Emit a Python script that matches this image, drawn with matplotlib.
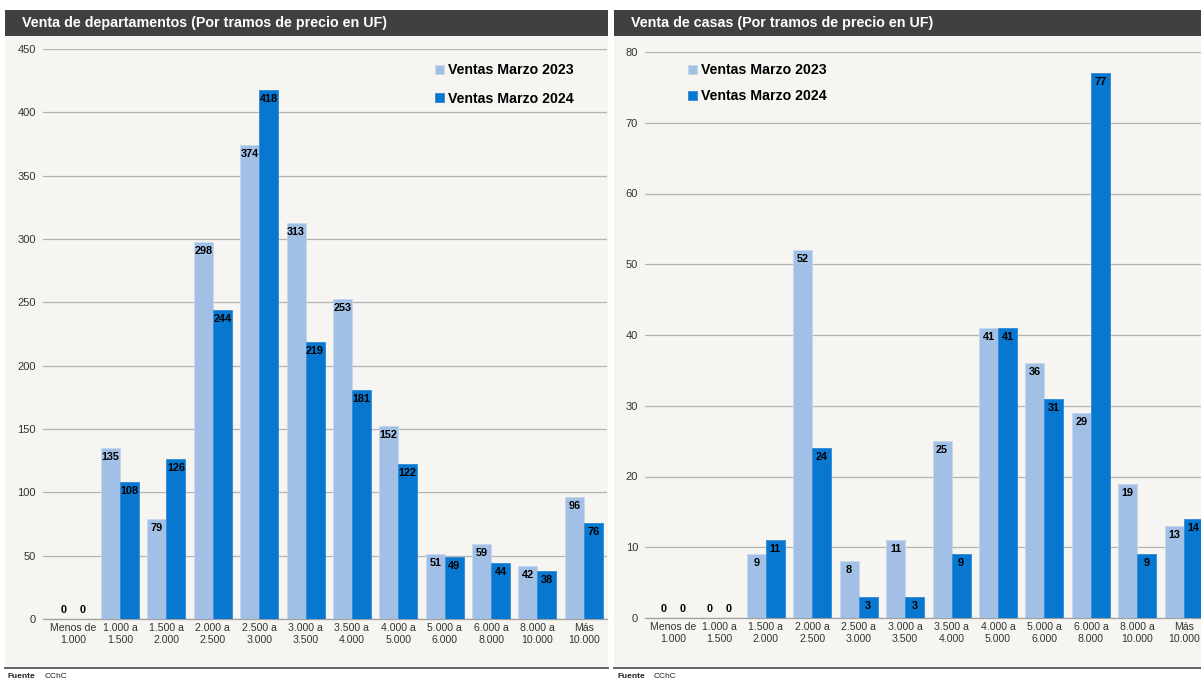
import numpy as np
import matplotlib
matplotlib.use('Agg')
import matplotlib.pyplot as plt
from matplotlib.patches import Rectangle

plt.rcParams['font.family'] = ['Liberation Sans', 'DejaVu Sans']

# price ranges (UF)
tramos = ['Menos de\n1.000', '1.000 a\n1.500', '1.500 a\n2.000', '2.000 a\n2.500',
          '2.500 a\n3.000', '3.000 a\n3.500', '3.500 a\n4.000', '4.000 a\n5.000',
          '5.000 a\n6.000', '6.000 a\n8.000', '8.000 a\n10.000', 'Más\n10.000']

deptos_2023 = [0, 135, 79, 298, 374, 313, 253, 152, 51, 59, 42, 96]
deptos_2024 = [0, 108, 126, 244, 418, 219, 181, 122, 49, 44, 38, 76]

casas_2023 = [0, 0, 9, 52, 8, 11, 25, 41, 36, 29, 19, 13]
casas_2024 = [0, 0, 11, 24, 3, 3, 9, 41, 31, 77, 9, 14]

series_names = ['Ventas Marzo 2023', 'Ventas Marzo 2024']

C_LIGHT = '#a2c0e5'
C_DARK = '#0877d0'
C_HEAD = '#404040'
C_PANEL = '#f6f5f1'

W, H = 1201, 681
fig = plt.figure(figsize=(W / 100, H / 100), dpi=100)
fig.patch.set_facecolor('white')


def fx(x):
    return x / W


def fy(y):
    return 1 - y / H


def panel(x0, x1, title):
    fig.add_artist(Rectangle((fx(x0), fy(668)), fx(x1) - fx(x0), fy(36) - fy(668),
                             transform=fig.transFigure, facecolor=C_PANEL,
                             edgecolor='none', zorder=-5))
    fig.add_artist(Rectangle((fx(x0), fy(36)), fx(x1) - fx(x0), fy(10) - fy(36),
                             transform=fig.transFigure, facecolor=C_HEAD,
                             edgecolor='none', zorder=-4))
    fig.text(fx(x0 + 17), fy(23), title, color='white', fontsize=10.3,
             fontweight='bold', va='center', ha='left')
    fig.add_artist(plt.Line2D([fx(x0), fx(x1)], [fy(668), fy(668)],
                              transform=fig.transFigure, color='#555555', lw=1.3))
    fig.text(fx(x0 + 3), fy(677), 'Fuente', fontsize=6, fontweight='bold',
             va='center', color='#222222')
    fig.text(fx(x0 + 40), fy(677), 'CChC', fontsize=6, va='center', color='#222222')


def chart(rect, v23, v24, ymax, ystep, xlim, leg_xy, leg_space):
    ax = fig.add_axes(rect)
    ax.set_facecolor('none')
    x = np.arange(len(tramos))
    w = 0.41
    b1 = ax.bar(x - w / 2, v23, w, color=C_LIGHT, edgecolor='#c4d8ef', lw=0.6,
                zorder=3, label=series_names[0])
    b2 = ax.bar(x + w / 2, v24, w, color=C_DARK, edgecolor='#2f8ad6', lw=0.6,
                zorder=3, label=series_names[1])
    for bars, vals in ((b1, v23), (b2, v24)):
        for r, v in zip(bars, vals):
            off = -6.5 if v > 0 else 6.5
            ax.annotate(str(v), (r.get_x() + r.get_width() / 2, v),
                        xytext=(0, off), textcoords='offset points',
                        ha='center', va='center', fontsize=7.8,
                        fontweight='bold', color='black', zorder=4)
    ax.set_ylim(0, ymax)
    ax.set_xlim(*xlim)
    ax.set_yticks(np.arange(0, ymax + 1, ystep))
    ax.set_xticks(x)
    ax.set_xticklabels(tramos, fontsize=7.6, color='#333333', linespacing=1.25)
    ax.tick_params(axis='y', labelsize=8, labelcolor='#333333', length=0, pad=5)
    ax.tick_params(axis='x', length=0, pad=3)
    ax.grid(axis='y', color='#b4b4b4', lw=0.9, zorder=0)
    for s in ('top', 'right', 'left'):
        ax.spines[s].set_visible(False)
    ax.spines['bottom'].set_color('#a0a0a0')
    ax.spines['bottom'].set_linewidth(0.9)
    ax.legend(handles=[b1, b2], loc='upper left', frameon=False,
              bbox_to_anchor=(fx(leg_xy[0]), fy(leg_xy[1])),
              bbox_transform=fig.transFigure, borderpad=0,
              handlelength=0.6, handleheight=0.6, handletextpad=0.3,
              labelspacing=leg_space,
              prop={'size': 10.2, 'weight': 'bold'})
    return ax


panel(5, 608, 'Venta de departamentos (Por tramos de precio en UF)')
panel(614, 1201, 'Venta de casas (Por tramos de precio en UF)')

chart([fx(43), fy(619), fx(607) - fx(43), fy(49) - fy(619)],
      deptos_2023, deptos_2024, 450, 50, (-0.66, 11.5), (428, 56), 1.05)
chart([fx(645), fy(618), fx(1207) - fx(645), fy(52) - fy(618)],
      casas_2023, casas_2024, 80, 10, (-0.6, 11.5), (681, 56), 0.85)

fig.savefig('out.png', dpi=100)
